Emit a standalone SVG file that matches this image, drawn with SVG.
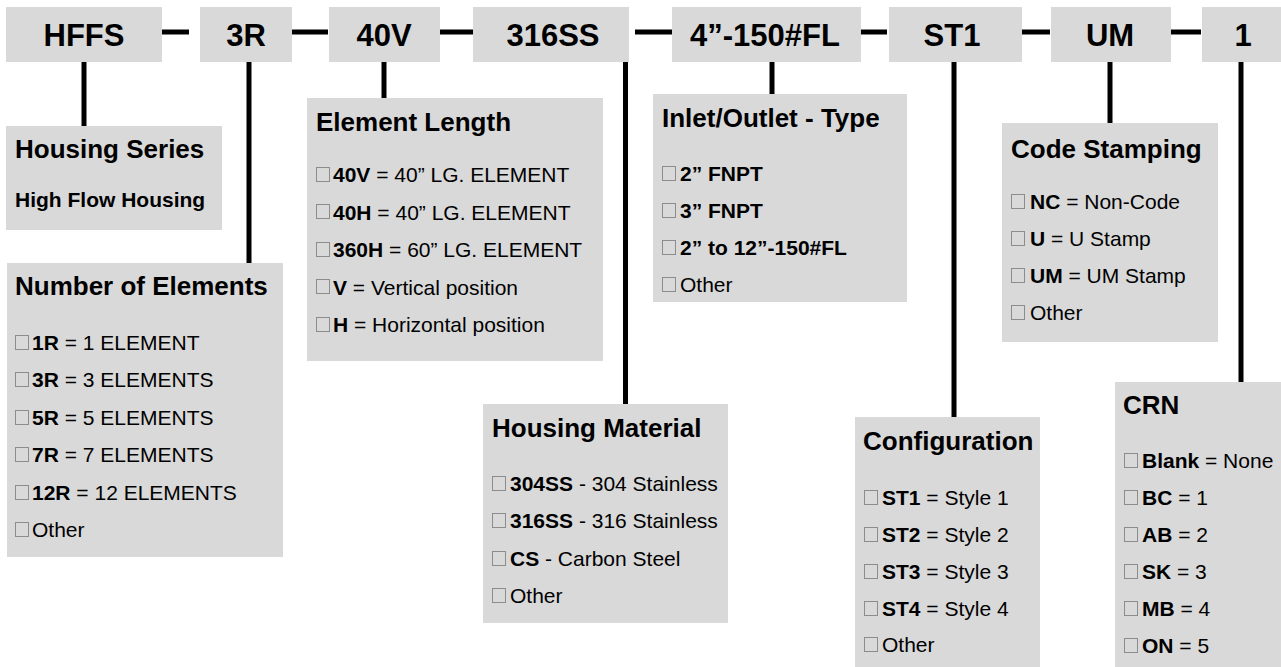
<svg xmlns="http://www.w3.org/2000/svg" xmlns:xlink="http://www.w3.org/1999/xlink" width="1281" height="667" viewBox="0 0 1281 667">
<defs>
<style>
.box{fill:#d9d9d9;}
.code{font-family:"Liberation Sans",Arial,sans-serif;font-weight:bold;font-size:31px;fill:#000;text-anchor:middle;}
.ttl{font-family:"Liberation Sans",Arial,sans-serif;font-weight:bold;font-size:26px;fill:#000;}
.row{font-family:"Liberation Sans",Arial,sans-serif;font-size:21px;fill:#000;}
.b{font-weight:bold;}
.cb{fill:none;stroke:#8c8c8c;stroke-width:1;}
.conn line{stroke:#000;stroke-width:5;}
</style>
<rect id="cb" class="cb" x="0.5" y="0.5" width="13" height="14"/>
</defs>
<rect width="1281" height="667" fill="#fff"/>

<g class="conn" id="connectors">
<line x1="162" y1="32" x2="189" y2="32"/>
<line x1="292" y1="32" x2="328" y2="32"/>
<line x1="440" y1="32" x2="473" y2="32"/>
<line x1="635" y1="32" x2="672" y2="32"/>
<line x1="861" y1="32" x2="887" y2="32"/>
<line x1="1022" y1="32" x2="1050" y2="32"/>
<line x1="1171" y1="32" x2="1201" y2="32"/>
<line x1="84" y1="62" x2="84" y2="126"/>
<line x1="249" y1="62" x2="249" y2="263"/>
<line x1="384" y1="62" x2="384" y2="98"/>
<line x1="625.5" y1="62" x2="625.5" y2="404"/>
<line x1="772" y1="62" x2="772" y2="94"/>
<line x1="954" y1="62" x2="954" y2="417"/>
<line x1="1110" y1="62" x2="1110" y2="123"/>
<line x1="1241" y1="62" x2="1241" y2="382"/>
</g>

<g id="code-hffs"><rect class="box" x="6" y="7" width="156" height="55"/><text class="code" x="84" y="45.5">HFFS</text></g>
<g id="code-3r"><rect class="box" x="200" y="7" width="92" height="55"/><text class="code" x="246" y="45.5">3R</text></g>
<g id="code-40v"><rect class="box" x="329" y="7" width="111" height="55"/><text class="code" x="384" y="45.5">40V</text></g>
<g id="code-316ss"><rect class="box" x="473" y="7" width="156" height="55"/><text class="code" x="553" y="45.5">316SS</text></g>
<g id="code-inlet"><rect class="box" x="672" y="7" width="189" height="55"/><text class="code" x="765" y="45.5">4”-150#FL</text></g>
<g id="code-st1"><rect class="box" x="889" y="7" width="133" height="55"/><text class="code" x="952" y="45.5">ST1</text></g>
<g id="code-um"><rect class="box" x="1051" y="7" width="120" height="55"/><text class="code" x="1110" y="45.5">UM</text></g>
<g id="code-1"><rect class="box" x="1202" y="7" width="79" height="55"/><text class="code" x="1243" y="45.5">1</text></g>

<g id="housing-series">
<rect class="box" x="6" y="126" width="216" height="104"/>
<text class="ttl" x="15" y="158">Housing Series</text>
<text class="row b" x="15" y="207">High Flow Housing</text>
</g>

<g id="number-of-elements">
<rect class="box" x="7" y="263" width="276" height="294"/>
<text class="ttl" x="15" y="295">Number of Elements</text>
<use xlink:href="#cb" x="15" y="335"/><text class="row" x="32" y="350"><tspan class="b">1R</tspan> = 1 ELEMENT</text>
<use xlink:href="#cb" x="15" y="372"/><text class="row" x="32" y="387"><tspan class="b">3R</tspan> = 3 ELEMENTS</text>
<use xlink:href="#cb" x="15" y="410"/><text class="row" x="32" y="425"><tspan class="b">5R</tspan> = 5 ELEMENTS</text>
<use xlink:href="#cb" x="15" y="447"/><text class="row" x="32" y="462"><tspan class="b">7R</tspan> = 7 ELEMENTS</text>
<use xlink:href="#cb" x="15" y="485"/><text class="row" x="32" y="500"><tspan class="b">12R</tspan> = 12 ELEMENTS</text>
<use xlink:href="#cb" x="15" y="522"/><text class="row" x="32" y="537">Other</text>
</g>

<g id="element-length">
<rect class="box" x="307" y="98" width="296" height="263"/>
<text class="ttl" x="316" y="131">Element Length</text>
<use xlink:href="#cb" x="316" y="167"/><text class="row" x="333" y="182"><tspan class="b">40V</tspan> = 40” LG. ELEMENT</text>
<use xlink:href="#cb" x="316" y="204"/><text class="row" x="333" y="219.5"><tspan class="b">40H</tspan> = 40” LG. ELEMENT</text>
<use xlink:href="#cb" x="316" y="242"/><text class="row" x="333" y="257"><tspan class="b">360H</tspan> = 60” LG. ELEMENT</text>
<use xlink:href="#cb" x="316" y="279"/><text class="row" x="333" y="294.5"><tspan class="b">V</tspan> = Vertical position</text>
<use xlink:href="#cb" x="316" y="317"/><text class="row" x="333" y="332"><tspan class="b">H</tspan> = Horizontal position</text>
</g>

<g id="housing-material">
<rect class="box" x="483" y="404" width="245" height="219"/>
<text class="ttl" x="492" y="437">Housing Material</text>
<use xlink:href="#cb" x="492" y="476"/><text class="row" x="510" y="491"><tspan class="b">304SS</tspan> - 304 Stainless</text>
<use xlink:href="#cb" x="492" y="513"/><text class="row" x="510" y="528"><tspan class="b">316SS</tspan> - 316 Stainless</text>
<use xlink:href="#cb" x="492" y="551"/><text class="row" x="510" y="566"><tspan class="b">CS</tspan> - Carbon Steel</text>
<use xlink:href="#cb" x="492" y="588"/><text class="row" x="510" y="603">Other</text>
</g>

<g id="inlet-outlet">
<rect class="box" x="653" y="94" width="254" height="208"/>
<text class="ttl" x="662" y="127">Inlet/Outlet - Type</text>
<use xlink:href="#cb" x="662" y="166"/><text class="row b" x="680" y="181">2” FNPT</text>
<use xlink:href="#cb" x="662" y="203"/><text class="row b" x="680" y="218">3” FNPT</text>
<use xlink:href="#cb" x="662" y="240"/><text class="row b" x="680" y="255">2” to 12”-150#FL</text>
<use xlink:href="#cb" x="662" y="277"/><text class="row" x="680" y="292">Other</text>
</g>

<g id="configuration">
<rect class="box" x="855" y="417" width="185" height="250"/>
<text class="ttl" x="863" y="450">Configuration</text>
<use xlink:href="#cb" x="864" y="490"/><text class="row" x="882" y="505"><tspan class="b">ST1</tspan> = Style 1</text>
<use xlink:href="#cb" x="864" y="527"/><text class="row" x="882" y="542"><tspan class="b">ST2</tspan> = Style 2</text>
<use xlink:href="#cb" x="864" y="564"/><text class="row" x="882" y="579"><tspan class="b">ST3</tspan> = Style 3</text>
<use xlink:href="#cb" x="864" y="601"/><text class="row" x="882" y="616"><tspan class="b">ST4</tspan> = Style 4</text>
<use xlink:href="#cb" x="864" y="637"/><text class="row" x="882" y="652">Other</text>
</g>

<g id="code-stamping">
<rect class="box" x="1002" y="123" width="216" height="219"/>
<text class="ttl" x="1011" y="158">Code Stamping</text>
<use xlink:href="#cb" x="1011" y="194"/><text class="row" x="1030" y="209"><tspan class="b">NC</tspan> = Non-Code</text>
<use xlink:href="#cb" x="1011" y="231"/><text class="row" x="1030" y="246"><tspan class="b">U</tspan> = U Stamp</text>
<use xlink:href="#cb" x="1011" y="268"/><text class="row" x="1030" y="283"><tspan class="b">UM</tspan> = UM Stamp</text>
<use xlink:href="#cb" x="1011" y="305"/><text class="row" x="1030" y="320">Other</text>
</g>

<g id="crn">
<rect class="box" x="1115" y="382" width="166" height="285"/>
<text class="ttl" x="1123" y="414">CRN</text>
<use xlink:href="#cb" x="1124" y="453"/><text class="row" x="1142" y="468"><tspan class="b">Blank</tspan> = None</text>
<use xlink:href="#cb" x="1124" y="490"/><text class="row" x="1142" y="505"><tspan class="b">BC</tspan> = 1</text>
<use xlink:href="#cb" x="1124" y="527"/><text class="row" x="1142" y="542"><tspan class="b">AB</tspan> = 2</text>
<use xlink:href="#cb" x="1124" y="564"/><text class="row" x="1142" y="579"><tspan class="b">SK</tspan> = 3</text>
<use xlink:href="#cb" x="1124" y="601"/><text class="row" x="1142" y="616"><tspan class="b">MB</tspan> = 4</text>
<use xlink:href="#cb" x="1124" y="638"/><text class="row" x="1142" y="653"><tspan class="b">ON</tspan> = 5</text>
</g>
</svg>
